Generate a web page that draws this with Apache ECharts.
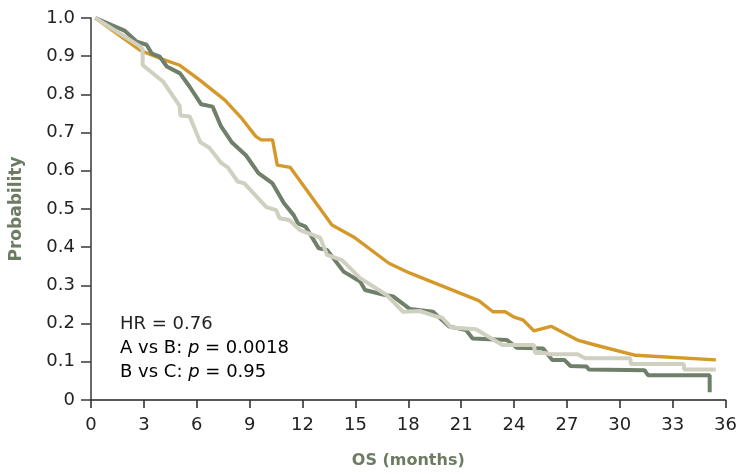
<!DOCTYPE html>
<html>
<head>
<meta charset="utf-8">
<script src="https://cdn.jsdelivr.net/npm/echarts@6/dist/echarts.min.js"></script>
<style>
html,body{margin:0;padding:0;background:#fff;}
#chart{width:740px;height:474px;}
</style>
</head>
<body>
<div id="chart"></div>
<script>
// X ticks (months) and Y ticks (probability)
var xTicks = [0, 3, 6, 9, 12, 15, 18, 21, 24, 27, 30, 33, 36];
var yTicks = [0, 0.1, 0.2, 0.3, 0.4, 0.5, 0.6, 0.7, 0.8, 0.9, 1.0];

var seriesNames = ['A', 'B', 'C'];

// Arm A (orange) [month, probability]
var armA = [
  [0.25,1.0],[2.8,0.915],[4.0,0.893],[5.0,0.877],[6.1,0.84],[7.6,0.785],[8.5,0.74],
  [9.35,0.69],[9.65,0.681],[10.3,0.681],[10.57,0.615],[11.3,0.609],[13.67,0.458],
  [14.9,0.427],[16.9,0.358],[18.1,0.332],[22.0,0.26],[22.8,0.231],[23.5,0.231],
  [24.0,0.217],[24.5,0.21],[25.13,0.181],[26.1,0.193],[27.6,0.157],[28.6,0.144],
  [30.9,0.117],[35.45,0.105]
];

// Arm B (dark green)
var armB = [
  [0.25,1.0],[1.9,0.967],[2.6,0.938],[3.15,0.93],[3.45,0.907],[3.9,0.899],[4.3,0.873],
  [5.05,0.855],[5.6,0.82],[6.25,0.774],[6.9,0.768],[7.38,0.716],[8.0,0.674],[8.8,0.64],
  [9.5,0.594],[10.3,0.567],[10.95,0.515],[11.5,0.484],[11.75,0.462],[12.17,0.454],
  [12.92,0.397],[13.39,0.393],[14.33,0.336],[15.27,0.31],[15.55,0.288],[16.5,0.277],
  [17.14,0.271],[18.1,0.238],[19.4,0.231],[20.34,0.192],[21.28,0.183],[21.65,0.161],
  [23.6,0.157],[24.15,0.137],[25.65,0.135],[26.16,0.105],[26.85,0.105],[27.2,0.089],
  [28.1,0.088],[28.25,0.08],[31.4,0.078],[31.6,0.065],[35.1,0.065],[35.1,0.02]
];

// Arm C (light grey-green)
var armC = [
  [0.25,1.0],[2.8,0.925],[2.93,0.918],[2.93,0.877],[4.1,0.833],[5.03,0.77],[5.07,0.745],
  [5.6,0.742],[6.2,0.675],[6.72,0.66],[7.4,0.62],[7.76,0.609],[8.32,0.572],[8.7,0.567],
  [9.95,0.505],[10.5,0.497],[10.7,0.476],[11.25,0.471],[11.85,0.445],[13.0,0.425],
  [13.39,0.38],[14.24,0.366],[15.27,0.319],[16.77,0.275],[17.7,0.231],[18.65,0.233],
  [19.49,0.22],[19.9,0.216],[20.43,0.19],[21.84,0.185],[23.34,0.144],[25.13,0.144],
  [25.2,0.123],[25.8,0.123],[25.97,0.12],[27.6,0.12],[28.04,0.109],[30.6,0.109],
  [30.63,0.094],[33.63,0.094],[33.65,0.08],[35.45,0.08]
];

var annotHR = 'HR = 0.76';
var annotAB = ['A vs B: ', 'p', ' = 0.0018'];
var annotBC = ['B vs C: ', 'p', ' = 0.95'];

var FONT = 'DejaVu Sans';
var chart = echarts.init(document.getElementById('chart'), null, {renderer: 'canvas'});

var richStyle = {
  n: {fontFamily: FONT, fontSize: 18, color: '#222'},
  i: {fontFamily: FONT, fontSize: 18, color: '#222', fontStyle: 'italic'}
};

chart.setOption({
  animation: false,
  backgroundColor: '#fff',
  grid: {left: 89, right: 12, top: 18, bottom: 74, containLabel: false},
  xAxis: {
    type: 'value',
    min: xTicks[0], max: xTicks[xTicks.length - 1], interval: 3,
    name: 'OS (months)', nameLocation: 'middle', nameGap: 53,
    nameTextStyle: {fontFamily: FONT, fontSize: 16, fontWeight: 'bold', color: '#6b7c63'},
    axisLine: {lineStyle: {color: '#222', width: 1.6}},
    axisTick: {show: true, length: 8, lineStyle: {color: '#333', width: 1.6}},
    axisLabel: {fontFamily: FONT, fontSize: 18, color: '#222', margin: 16,
      formatter: function (v) { return xTicks.indexOf(v) >= 0 ? String(v) : ''; }},
    splitLine: {show: false}
  },
  yAxis: {
    type: 'value',
    min: yTicks[0], max: yTicks[yTicks.length - 1], interval: 0.1,
    name: 'Probability', nameLocation: 'middle', nameGap: 66, nameRotate: 90,
    nameTextStyle: {fontFamily: FONT, fontSize: 17, fontWeight: 'bold', color: '#6b7c63'},
    axisLine: {show: true, lineStyle: {color: '#444', width: 1.6}},
    axisTick: {show: true, length: 10, lineStyle: {color: '#444', width: 1.6}},
    axisLabel: {fontFamily: FONT, fontSize: 18, color: '#222', margin: 16,
      formatter: function (v) { return v === 0 ? '0' : v.toFixed(1); }},
    splitLine: {show: false}
  },
  series: [
    {name: seriesNames[0], type: 'line', data: armA, symbol: 'none', z: 2,
      lineStyle: {color: '#d4992a', width: 3.4}},
    {name: seriesNames[1], type: 'line', data: armB, symbol: 'none', z: 3,
      lineStyle: {color: '#6f7f69', width: 4}},
    {name: seriesNames[2], type: 'line', data: armC, symbol: 'none', z: 4,
      lineStyle: {color: '#cfd0c0', width: 4}}
  ],
  graphic: [
    {type: 'text', left: 120, top: 315, style: {text: annotHR, font: '18px "DejaVu Sans"', fill: '#222'}},
    {type: 'text', left: 120, top: 339, style: {
      text: '{n|' + annotAB[0] + '}{i|' + annotAB[1] + '}{n|' + annotAB[2] + '}', rich: richStyle}},
    {type: 'text', left: 120, top: 363, style: {
      text: '{n|' + annotBC[0] + '}{i|' + annotBC[1] + '}{n|' + annotBC[2] + '}', rich: richStyle}}
  ]
});
</script>
</body>
</html>
